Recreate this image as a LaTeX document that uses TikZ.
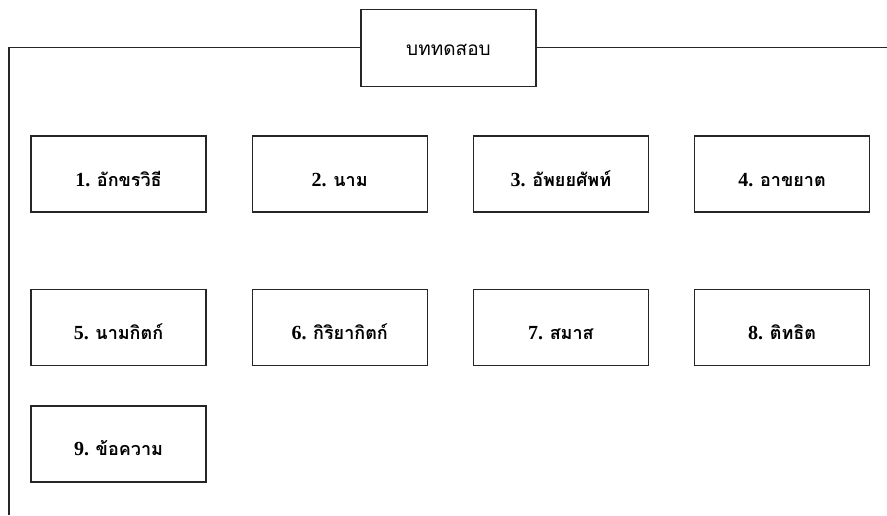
\documentclass[tikz,border=0pt]{standalone}
\usepackage{fontspec}
\setmainfont{Liberation Serif}
\newfontfamily\thaifont[Script=Thai]{Loma}
\usetikzlibrary{positioning}
\newcommand{\thaitext}[1]{{\thaifont\fontsize{18}{21}\selectfont #1}}
\tikzset{
    title_box/.style={rectangle, draw=black!85, line width=1.2pt, minimum width=175pt, minimum height=77pt, text height=16pt, text depth=0pt, font=\thaifont\fontsize{19}{22}\selectfont},
    topic_box/.style={rectangle, draw=black!85, line width=1.2pt, minimum width=175pt, minimum height=76pt, text height=24pt, text depth=0pt, font=\bfseries\fontsize{20}{23}\selectfont},
    link/.style={black!85, line width=1.2pt}
}
\begin{document}
\begin{tikzpicture}[x=1pt, y=-1pt, node distance=45pt and 45pt]
    \useasboundingbox (0,0) rectangle (887,515);

    \node (title) [title_box] at (448.5,47.7) {บททดสอบ};

    % first row
    \node (b1) [topic_box] at (118.5,174) {1. \thaitext{อักขรวิธี}};
    \node (b2) [topic_box, right=45pt of b1] {2. \thaitext{นาม}};
    \node (b3) [topic_box, right=45pt of b2] {3. \thaitext{อัพยยศัพท์}};
    \node (b4) [topic_box, right=45pt of b3] {4. \thaitext{อาขยาต}};

    % second row
    \node (b5) [topic_box, below=76.5pt of b1] {5. \thaitext{นามกิตก์}};
    \node (b6) [topic_box, right=45pt of b5] {6. \thaitext{กิริยากิตก์}};
    \node (b7) [topic_box, right=45pt of b6] {7. \thaitext{สมาส}};
    \node (b8) [topic_box, right=45pt of b7] {8. \thaitext{ติทธิต}};

    % third row
    \node (b9) [topic_box, below=39pt of b5] {9. \thaitext{ข้อความ}};

    % frame lines
    \coordinate (corner) at (9,47.7);
    \coordinate (leftend) at (9,515);
    \coordinate (rightend) at (887,47.7);
    \draw [link] (title.west) -- (corner) -- (leftend);
    \draw [link] (title.east) -- (rightend);
\end{tikzpicture}
\end{document}
